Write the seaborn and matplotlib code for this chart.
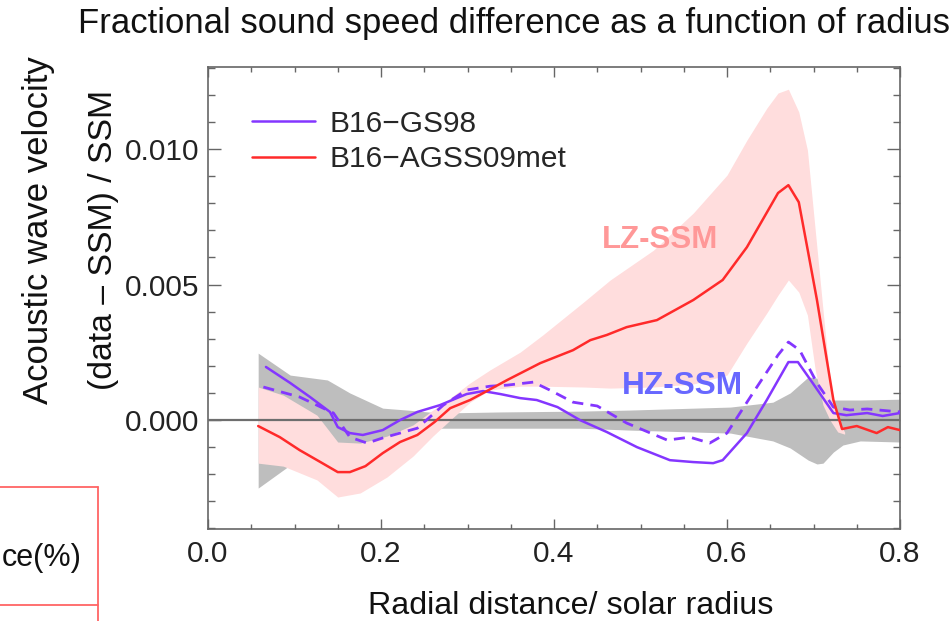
import matplotlib
matplotlib.use("Agg")
import matplotlib.pyplot as plt
import seaborn as sns
from matplotlib.ticker import MultipleLocator, FixedLocator, FixedFormatter
from matplotlib.lines import Line2D

# Fractional sound-speed difference (data - SSM)/SSM versus r/R_sun

# B16-GS98 (high-Z) model, solid
gs98_r = [0.067, 0.095, 0.118, 0.141, 0.150, 0.164, 0.179, 0.202, 0.222, 0.242,
          0.268, 0.299, 0.318, 0.338, 0.361, 0.380, 0.404, 0.430, 0.461, 0.496,
          0.534, 0.561, 0.584, 0.595, 0.623, 0.646, 0.671, 0.682, 0.699, 0.723,
          0.738, 0.762, 0.780, 0.800]
gs98_dc = [0.00196, 0.00137, 0.00085, 0.00030, -0.00026, -0.00048, -0.00055, -0.00037,
           0.00000, 0.00030, 0.00055, 0.00096, 0.00107, 0.00096, 0.00081, 0.00074,
           0.00048, 0.00000, -0.00044, -0.00100, -0.00148, -0.00155, -0.00159, -0.00148,
           -0.00048, 0.00074, 0.00214, 0.00214, 0.00137, 0.00026, 0.00018, 0.00026,
           0.00015, 0.00026]

# B16-GS98 variant, dashed
gs98b_r = [0.064, 0.106, 0.145, 0.164, 0.184, 0.202, 0.242, 0.272, 0.299, 0.326,
           0.346, 0.376, 0.395, 0.422, 0.450, 0.484, 0.531, 0.557, 0.580, 0.600,
           0.630, 0.659, 0.671, 0.684, 0.704, 0.723, 0.742, 0.762, 0.800]
gs98b_dc = [0.00122, 0.00085, 0.00026, -0.00063, -0.00085, -0.00066, -0.00030, 0.00055,
            0.00111, 0.00125, 0.00129, 0.00140, 0.00111, 0.00066, 0.00052, -0.00011,
            -0.00074, -0.00063, -0.00085, -0.00048, 0.00100, 0.00240, 0.00288, 0.00258,
            0.00137, 0.00048, 0.00037, 0.00041, 0.00030]

# B16-AGSS09met (low-Z) model
agss_r = [0.058, 0.083, 0.106, 0.130, 0.150, 0.164, 0.182, 0.202, 0.222, 0.242,
          0.262, 0.280, 0.303, 0.320, 0.346, 0.384, 0.422, 0.442, 0.461, 0.484,
          0.519, 0.561, 0.595, 0.623, 0.659, 0.671, 0.683, 0.694, 0.704, 0.723,
          0.733, 0.750, 0.773, 0.786, 0.800]
agss_dc = [-0.00022, -0.00063, -0.00111, -0.00155, -0.00192, -0.00192, -0.00170, -0.00122,
           -0.00081, -0.00055, -0.00007, 0.00044, 0.00074, 0.00103, 0.00148, 0.00210,
           0.00258, 0.00295, 0.00314, 0.00343, 0.00369, 0.00443, 0.00517, 0.00638,
           0.00838, 0.00867, 0.00804, 0.00616, 0.00443, 0.00074, -0.00033, -0.00022,
           -0.00048, -0.00026, -0.00037]

# HZ-SSM uncertainty band
hz_r = [0.058, 0.095, 0.138, 0.164, 0.202, 0.230, 0.268, 0.338, 0.430, 0.488,
        0.604, 0.653, 0.673, 0.694, 0.704, 0.711, 0.723, 0.734, 0.754, 0.800]
hz_hi = [0.00247, 0.00166, 0.00148, 0.00100, 0.00044, 0.00037, 0.00026, 0.00030,
         0.00033, 0.00037, 0.00048, 0.00066, 0.00100, 0.00159, 0.00155, 0.00111,
         0.00074, 0.00074, 0.00074, 0.00077]
hz_lo = [-0.00251, -0.00166, -0.00185, -0.00185, -0.00148, -0.00092, -0.00030, -0.00030,
         -0.00030, -0.00037, -0.00048, -0.00077, -0.00103, -0.00148, -0.00162, -0.00159,
         -0.00118, -0.00092, -0.00077, -0.00081]

# LZ-SSM uncertainty band
lz_r = [0.058, 0.087, 0.126, 0.150, 0.176, 0.207, 0.237, 0.260, 0.280, 0.303,
        0.326, 0.361, 0.387, 0.434, 0.465, 0.515, 0.561, 0.600, 0.623, 0.646,
        0.659, 0.671, 0.683, 0.693, 0.702, 0.711, 0.719, 0.728, 0.736]
lz_hi = [0.00122, 0.00092, 0.00018, -0.00081, -0.00085, -0.00059, -0.00018, 0.00037,
         0.00081, 0.00137, 0.00185, 0.00251, 0.00314, 0.00435, 0.00517, 0.00627,
         0.00764, 0.00904, 0.01033, 0.01151, 0.01207, 0.01221, 0.01137, 0.00996,
         0.00701, 0.00406, 0.00148, 0.00000, -0.00044]
lz_lo = [-0.00159, -0.00170, -0.00221, -0.00284, -0.00269, -0.00210, -0.00133, -0.00059,
         0.00000, 0.00066, 0.00111, 0.00125, 0.00125, 0.00122, 0.00118, 0.00122,
         0.00133, 0.00166, 0.00284, 0.00395, 0.00461, 0.00517, 0.00472, 0.00387,
         0.00185, 0.00055, 0.00000, -0.00044, -0.00052]

x_ticks = [0.0, 0.2, 0.4, 0.6, 0.8]
x_tick_labels = ["0.0", "0.2", "0.4", "0.6", "0.8"]
y_ticks = [0.0, 0.005, 0.010]
y_tick_labels = ["0.000", "0.005", "0.010"]

sns.set_theme(style="white")
plt.rcParams["font.family"] = ["Liberation Sans", "DejaVu Sans"]

fig = plt.figure(figsize=(9.5, 6.21), dpi=100)
ax = fig.add_axes([208 / 950, 1 - 529 / 621, 692 / 950, 462 / 621])

ax.fill_between(hz_r, hz_lo, hz_hi, color="#bebebe", lw=0, zorder=1)
ax.fill_between(lz_r, lz_lo, lz_hi, color="#ffdddd", lw=0, zorder=2)
ax.axhline(0.0, color="#6e6e6e", lw=1.6, zorder=3)

purple = "#8436ff"
red = "#ff2a2a"
sns.lineplot(x=gs98b_r, y=gs98b_dc, ax=ax, color=purple, lw=2.0,
             linestyle=(0, (4, 2.6)), sort=False, estimator=None,
             label="_nolegend_", zorder=4)
sns.lineplot(x=gs98_r, y=gs98_dc, ax=ax, color=purple, lw=1.8, sort=False,
             estimator=None, label="B16\u2212GS98", zorder=5)
sns.lineplot(x=agss_r, y=agss_dc, ax=ax, color=red, lw=1.8, sort=False,
             estimator=None, label="B16\u2212AGSS09met", zorder=5)

ax.text(0.5225, 0.00664, "LZ-SSM", color="#ff9898", fontsize=22.5,
        fontweight="bold", ha="center", va="center", zorder=6)
ax.text(0.548, 0.00125, "HZ-SSM", color="#6868ff", fontsize=22.8,
        fontweight="bold", ha="center", va="center", zorder=6)

ax.set_xlim(0.0, 0.8)
ax.set_ylim(-0.00402, 0.01303)
ax.xaxis.set_major_locator(FixedLocator(x_ticks))
ax.xaxis.set_major_formatter(FixedFormatter(x_tick_labels))
ax.xaxis.set_minor_locator(MultipleLocator(0.05))
ax.yaxis.set_major_locator(FixedLocator(y_ticks))
ax.yaxis.set_major_formatter(FixedFormatter(y_tick_labels))
ax.yaxis.set_minor_locator(MultipleLocator(0.001))

ax.tick_params(which="both", direction="in", top=True, right=True,
               bottom=True, left=True, color="#666666", width=1.0,
               labelsize=21.5, labelcolor="#222222")
ax.tick_params(axis="x", which="major", length=7, pad=8)
ax.tick_params(axis="x", which="minor", length=3.6)
ax.tick_params(axis="y", which="major", length=9.5, pad=6)
ax.tick_params(axis="y", which="minor", length=5)
for side in ax.spines.values():
    side.set_color("#666666")
    side.set_linewidth(1.2)
ax.set_xlabel("")
ax.set_ylabel("")

leg = ax.legend(loc="upper left", bbox_to_anchor=(0.0636, 0.908),
                frameon=False, fontsize=21.5, handlelength=2.1,
                handletextpad=0.5, labelspacing=0.25, borderpad=0,
                borderaxespad=0)

fig.text(514 / 950, 1 - 33 / 621,
         "Fractional sound speed difference as a function of radius",
         fontsize=24.9, ha="center", va="baseline", color="#111111")
fig.text(571 / 950, 1 - 606 / 621, "Radial distance/ solar radius",
         fontsize=23.2, ha="center", va="center", color="#111111")
fig.text(39 / 950, 1 - 230 / 621, "Acoustic wave velocity", rotation=90,
         fontsize=25, ha="center", va="center", color="#111111")
fig.text(104 / 950, 1 - 240 / 621, "(data \u2013 SSM) / SSM", rotation=90,
         fontsize=24.3, ha="center", va="center", color="#111111")

# table cell fragment at the lower left
box_color = "#ff6464"
fig.add_artist(Line2D([0, 98 / 950], [1 - 487 / 621, 1 - 487 / 621],
                      transform=fig.transFigure, color=box_color, lw=1.3))
fig.add_artist(Line2D([98 / 950, 98 / 950], [1 - 487 / 621, 0],
                      transform=fig.transFigure, color=box_color, lw=1.3))
fig.add_artist(Line2D([0, 98 / 950], [1 - 605 / 621, 1 - 605 / 621],
                      transform=fig.transFigure, color=box_color, lw=1.3))
fig.text(1.5 / 950, 1 - 566 / 621, "ce(%)", fontsize=22, ha="left",
         va="baseline", color="#111111")

fig.savefig("out.png", dpi=100)
